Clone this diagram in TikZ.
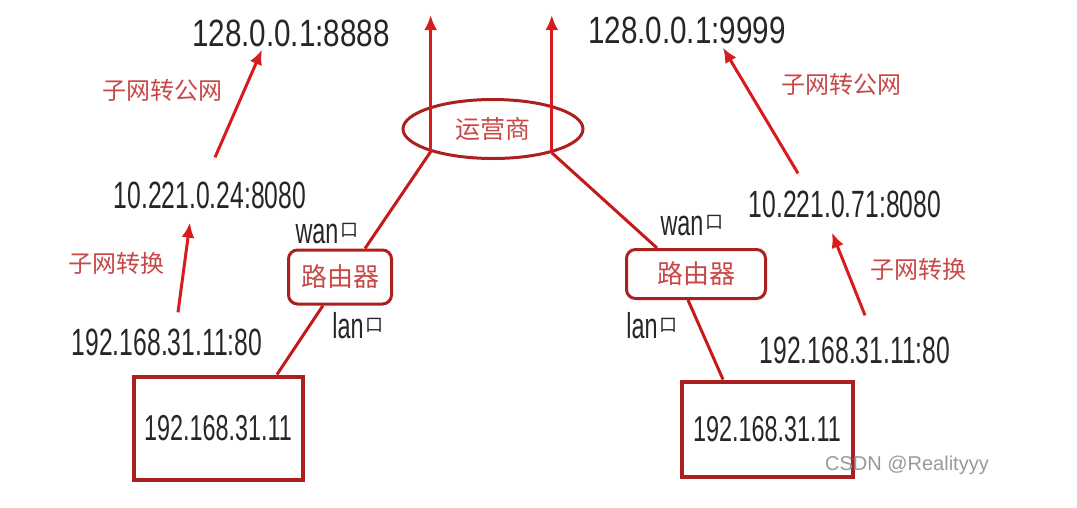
\documentclass[tikz,border=0pt]{standalone}
\usepackage{fontspec}
\usepackage{tikz}
\usetikzlibrary{%
  arrows.meta,%
  shapes.geometric%
}
\setmainfont{Liberation Sans}
\newfontfamily\ipfont[FakeStretch=0.65]{Liberation Sans}
\newfontfamily\pubfont[FakeStretch=0.78]{Liberation Sans}
\newfontfamily\cjk{Noto Sans CJK SC}
\definecolor{netred}{RGB}{214,28,28}
\definecolor{boxred}{RGB}{172,32,32}
\definecolor{txtred}{RGB}{200,72,72}
\newcommand{\kou}{\kern2pt\raisebox{7pt}{\cjk\fontsize{18}{18}\selectfont 口}}
\tikzset{>={Latex[length=15pt,width=13pt]},%
  rarrow/.style={->,netred,line width=3pt},%
  rline/.style={netred!92!black,line width=3pt},%
  pubip/.style={inner sep=0pt,text=black!85,font=\pubfont\fontsize{38}{40}\selectfont},%
  ip/.style={inner sep=0pt,text=black!85,font=\ipfont\fontsize{38}{40}\selectfont},%
  port/.style={inner sep=0pt,text=black!85,font=\ipfont\fontsize{36}{36}\selectfont},%
  note/.style={inner sep=0pt,text=txtred,font=\cjk\fontsize{24}{24}\selectfont},%
  isp/.style={ellipse,draw=boxred,line width=3pt,inner sep=0pt,text=txtred,%
    font=\cjk\fontsize{25}{25}\selectfont},%
  router/.style={draw=boxred,line width=3pt,rounded corners=9pt,text=txtred,%
    font=\cjk\fontsize{26}{26}\selectfont},%
  host/.style={draw=boxred,line width=4pt,text=black!85,%
    font=\ipfont\fontsize{36}{38}\selectfont}}

\begin{document}
\begin{tikzpicture}[x=1pt,y=-1pt]
    \useasboundingbox (0,0) rectangle (1077,507);
    % operator
    \node[isp,minimum width=180pt,minimum height=59pt] (isp) at (493,129) {运营商};
    \coordinate (top) at (490,15);
    \draw[rarrow] (isp.200) -- (isp.200 |- top);
    \draw[rarrow] (isp.338) -- (isp.338 |- top);
    % left side
    \node[pubip] (pub1) at (291,33) {128.0.0.1:8888};
    \node[ip] (nat1) at (210,195) {10.221.0.24:8080};
    \node[ip] (lan1) at (167,342) {192.168.31.11:80};
    \node[note] (up1) at (162,90) {子网转公网};
    \node[note] (sub1) at (116,263) {子网转换};
    \node[router,minimum width=103pt,minimum height=54pt] (router1) at (340,277) {路由器};
    \node[host,minimum width=169pt,minimum height=103pt] (host1) at (218,428) {192.168.31.11};
    \node[port] (wan1) at (327,234) {wan\kou};
    \node[port] (lanp1) at (358,326) {lan\kou};
    \draw[rline] (isp.200) -- ([xshift=25pt]router1.north);
    \draw[rline] ([xshift=-17pt]router1.south) -- ([xshift=59pt]host1.north);
    \draw[rarrow] ([xshift=11pt,yshift=16pt]lan1.north) -- ([xshift=-20pt,yshift=-14pt]nat1.south);
    \draw[rarrow] ([xshift=5pt,yshift=24pt]nat1.north) -- ([xshift=-29pt,yshift=-3pt]pub1.south);
    % right side
    \node[pubip] (pub2) at (687,30) {128.0.0.1:9999};
    \node[ip] (nat2) at (845,204) {10.221.0.71:8080};
    \node[ip] (lan2) at (855,350) {192.168.31.11:80};
    \node[note] (up2) at (841,84) {子网转公网};
    \node[note] (sub2) at (918,269) {子网转换};
    \node[router,minimum width=139pt,minimum height=49pt] (router2) at (696,274) {路由器};
    \node[host,minimum width=171pt,minimum height=95pt] (host2) at (767,429) {192.168.31.11};
    \node[port] (wan2) at (692,226) {wan\kou};
    \node[port] (lanp2) at (652,326) {lan\kou};
    \draw[rline] (isp.338) -- ([xshift=-39pt]router2.north);
    \draw[rline] ([xshift=-8pt]router2.south) -- ([xshift=-44pt]host2.north);
    \draw[rarrow] ([xshift=10pt,yshift=21pt]lan2.north) -- ([xshift=-13pt,yshift=-15pt]nat2.south);
    \draw[rarrow] ([xshift=-47pt,yshift=17pt]nat2.north) -- ([xshift=36pt,yshift=-4pt]pub2.south);
    \node[text=black!40,font=\fontsize{20}{20}\selectfont] (wm) at (907,465) {CSDN @Realityyy};
  \end{tikzpicture}
\end{document}
